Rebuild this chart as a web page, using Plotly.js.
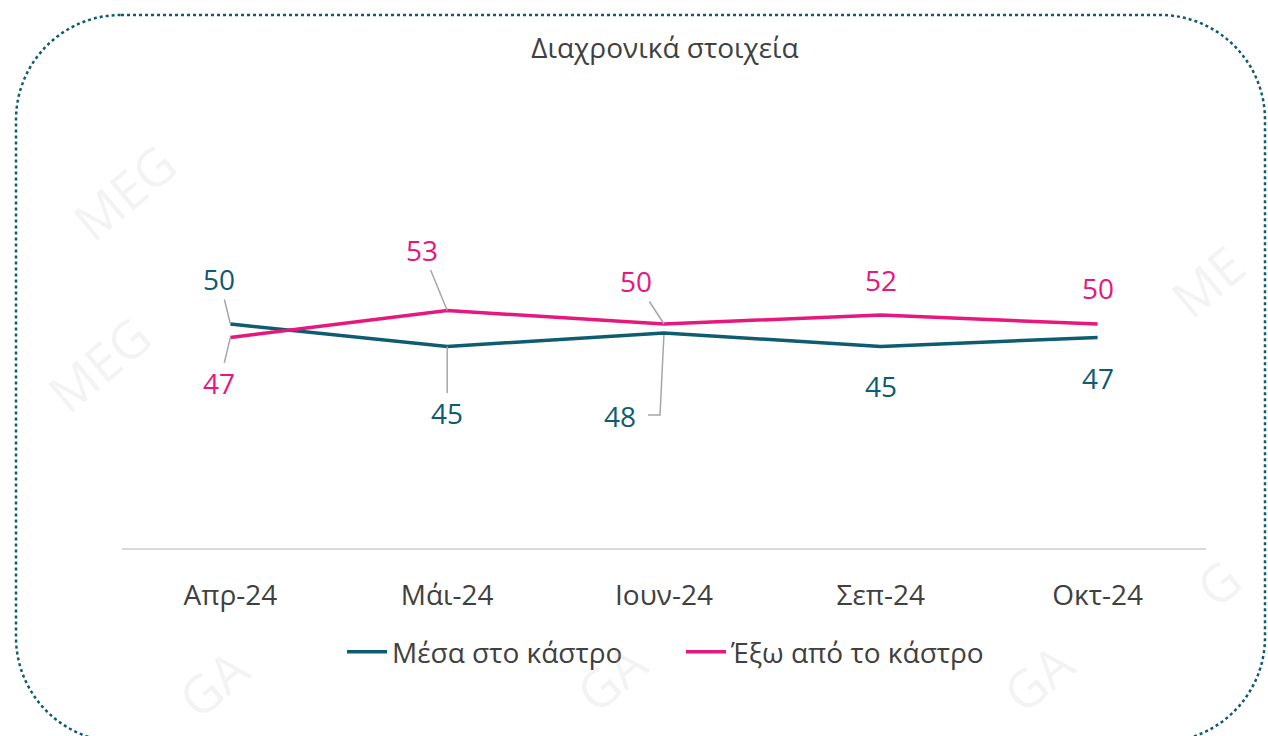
<!DOCTYPE html>
<html>
<head>
<meta charset="utf-8">
<script src="https://cdn.plot.ly/plotly-3.0.1.min.js"></script>
<style>
  html, body { margin: 0; padding: 0; background: #ffffff; }
  #chart { width: 1268px; height: 736px; }
</style>
</head>
<body>
<div id="chart"></div>
<script>
// ---- data ----
const categories = ['Απρ-24', 'Μάι-24', 'Ιουν-24', 'Σεπ-24', 'Οκτ-24'];
const insideValues = [50, 45, 48, 45, 47];
const outsideValues = [47, 53, 50, 52, 50];
const seriesNames = ['Μέσα στο κάστρο', 'Έξω από το κάστρο'];
const chartTitle = 'Διαχρονικά στοιχεία';

const TEAL = '#0d5c70';
const PINK = '#e8177d';
const GREY_TEXT = '#404040';
const LEADER = '#a6a6a6';
const FONT = '"Open Sans", "Noto Sans", sans-serif';

const W = 1268, H = 736;
const M = {l: 122, r: 62, t: 100, b: 188};
const PW = W - M.l - M.r, PH = H - M.t - M.b;
const px = x => (x - M.l) / PW;
const py = y => (H - M.b - y) / PH;

const traces = [
  {x: categories, y: insideValues, name: seriesNames[0], type: 'scatter', mode: 'lines',
   line: {color: TEAL, width: 3.5}, hoverinfo: 'x+y'},
  {x: categories, y: outsideValues, name: seriesNames[1], type: 'scatter', mode: 'lines',
   line: {color: PINK, width: 3.5}, hoverinfo: 'x+y'}
];

// label placement offsets in pixels (text centre relative to point); arrow = leader line
const insideLabelPos = [
  {ax: -11, ay: -45, arrow: true},
  {ax: 0, ay: 67, arrow: true},
  {ax: -44, ay: 83, arrow: false},
  {ax: 0, ay: 40, arrow: false},
  {ax: 0, ay: 41, arrow: false}
];
const outsideLabelPos = [
  {ax: -11, ay: 46, arrow: true},
  {ax: -25, ay: -61, arrow: true},
  {ax: -28, ay: -43, arrow: true},
  {ax: 0, ay: -35, arrow: false},
  {ax: 0, ay: -36, arrow: false}
];

const annotations = [];
function addLabels(values, pos, color) {
  values.forEach((v, i) => {
    const p = pos[i];
    const base = {x: categories[i], y: v, xref: 'x', yref: 'y', text: String(v),
      font: {family: FONT, size: 28, color: color}};
    if (p.arrow) {
      annotations.push(Object.assign(base, {showarrow: true, ax: p.ax, ay: p.ay,
        arrowhead: 0, arrowwidth: 1.5, arrowcolor: LEADER, standoff: 0, startstandoff: 0}));
    } else {
      annotations.push(Object.assign(base, {showarrow: false, xshift: p.ax, yshift: -p.ay}));
    }
  });
}
addLabels(insideValues, insideLabelPos, TEAL);
addLabels(outsideValues, outsideLabelPos, PINK);

// faint watermarks near the edges
const wm = [
  {x: 55, y: 125, t: 'MEG'}, {x: 30, y: 430, t: 'MEG'}, {x: 160, y: 735, t: 'GA'},
  {x: 610, y: 730, t: 'GA'}, {x: 1090, y: 730, t: 'GA'}, {x: 1262, y: 280, t: 'ME'},
  {x: 1258, y: 625, t: 'G'}
];
wm.forEach(w => annotations.push({x: px(w.x), y: py(w.y), xref: 'paper', yref: 'paper',
  text: w.t, showarrow: false, textangle: -40,
  font: {family: FONT, size: 52, color: 'rgba(190,190,190,0.18)'}}));

// rounded dotted frame
const fx0 = 16, fy0 = 15, fx1 = 1265, fy1 = 742, R = 105, k = 0.5523 * R;
const P = (x, y) => px(x).toFixed(5) + ',' + py(y).toFixed(5);
const framePath = 'M' + P(fx0 + R, fy0) + ' L' + P(fx1 - R, fy0) +
  ' C' + P(fx1 - R + k, fy0) + ' ' + P(fx1, fy0 + R - k) + ' ' + P(fx1, fy0 + R) +
  ' L' + P(fx1, fy1 - R) +
  ' C' + P(fx1, fy1 - R + k) + ' ' + P(fx1 - R + k, fy1) + ' ' + P(fx1 - R, fy1) +
  ' L' + P(fx0 + R, fy1) +
  ' C' + P(fx0 + R - k, fy1) + ' ' + P(fx0, fy1 - R + k) + ' ' + P(fx0, fy1 - R) +
  ' L' + P(fx0, fy0 + R) +
  ' C' + P(fx0, fy0 + R - k) + ' ' + P(fx0 + R - k, fy0) + ' ' + P(fx0 + R, fy0) + ' Z';

const shapes = [
  {type: 'path', xref: 'paper', yref: 'paper', path: framePath,
   line: {color: TEAL, width: 2.5, dash: 'dot'}, fillcolor: 'rgba(0,0,0,0)', layer: 'below'},
  // elbow leader line for the Ιουν "inside" label
  {type: 'path', xref: 'x', yref: 'y', xsizemode: 'pixel', ysizemode: 'pixel',
   xanchor: categories[2], yanchor: insideValues[2],
   path: 'M0,0 L-4,-82 L-16,-82', line: {color: LEADER, width: 1.5}, layer: 'below'}
];

const layout = {
  width: W, height: H,
  margin: M,
  paper_bgcolor: '#ffffff', plot_bgcolor: '#ffffff',
  title: {text: chartTitle, x: 665 / W, xanchor: 'center', y: 1 - 48 / H, yanchor: 'middle',
    font: {family: FONT, size: 28, color: GREY_TEXT}},
  xaxis: {type: 'category', range: [-0.5, 4.5], showgrid: false, zeroline: false,
    showline: true, linecolor: '#d9d9d9', linewidth: 1.5, ticks: '',
    ticklabelstandoff: 22, tickfont: {family: FONT, size: 28, color: GREY_TEXT}, fixedrange: true},
  yaxis: {range: [0, 100], visible: false, fixedrange: true},
  showlegend: true,
  legend: {orientation: 'h', x: px(342), xanchor: 'left', y: -104 / PH, yanchor: 'middle',
    entrywidth: 284, entrywidthmode: 'pixels',
    font: {family: FONT, size: 28, color: GREY_TEXT}, itemwidth: 40, bgcolor: 'rgba(0,0,0,0)'},
  annotations: annotations,
  shapes: shapes
};

Plotly.newPlot('chart', traces, layout, {displayModeBar: false, staticPlot: true});
</script>
</body>
</html>
